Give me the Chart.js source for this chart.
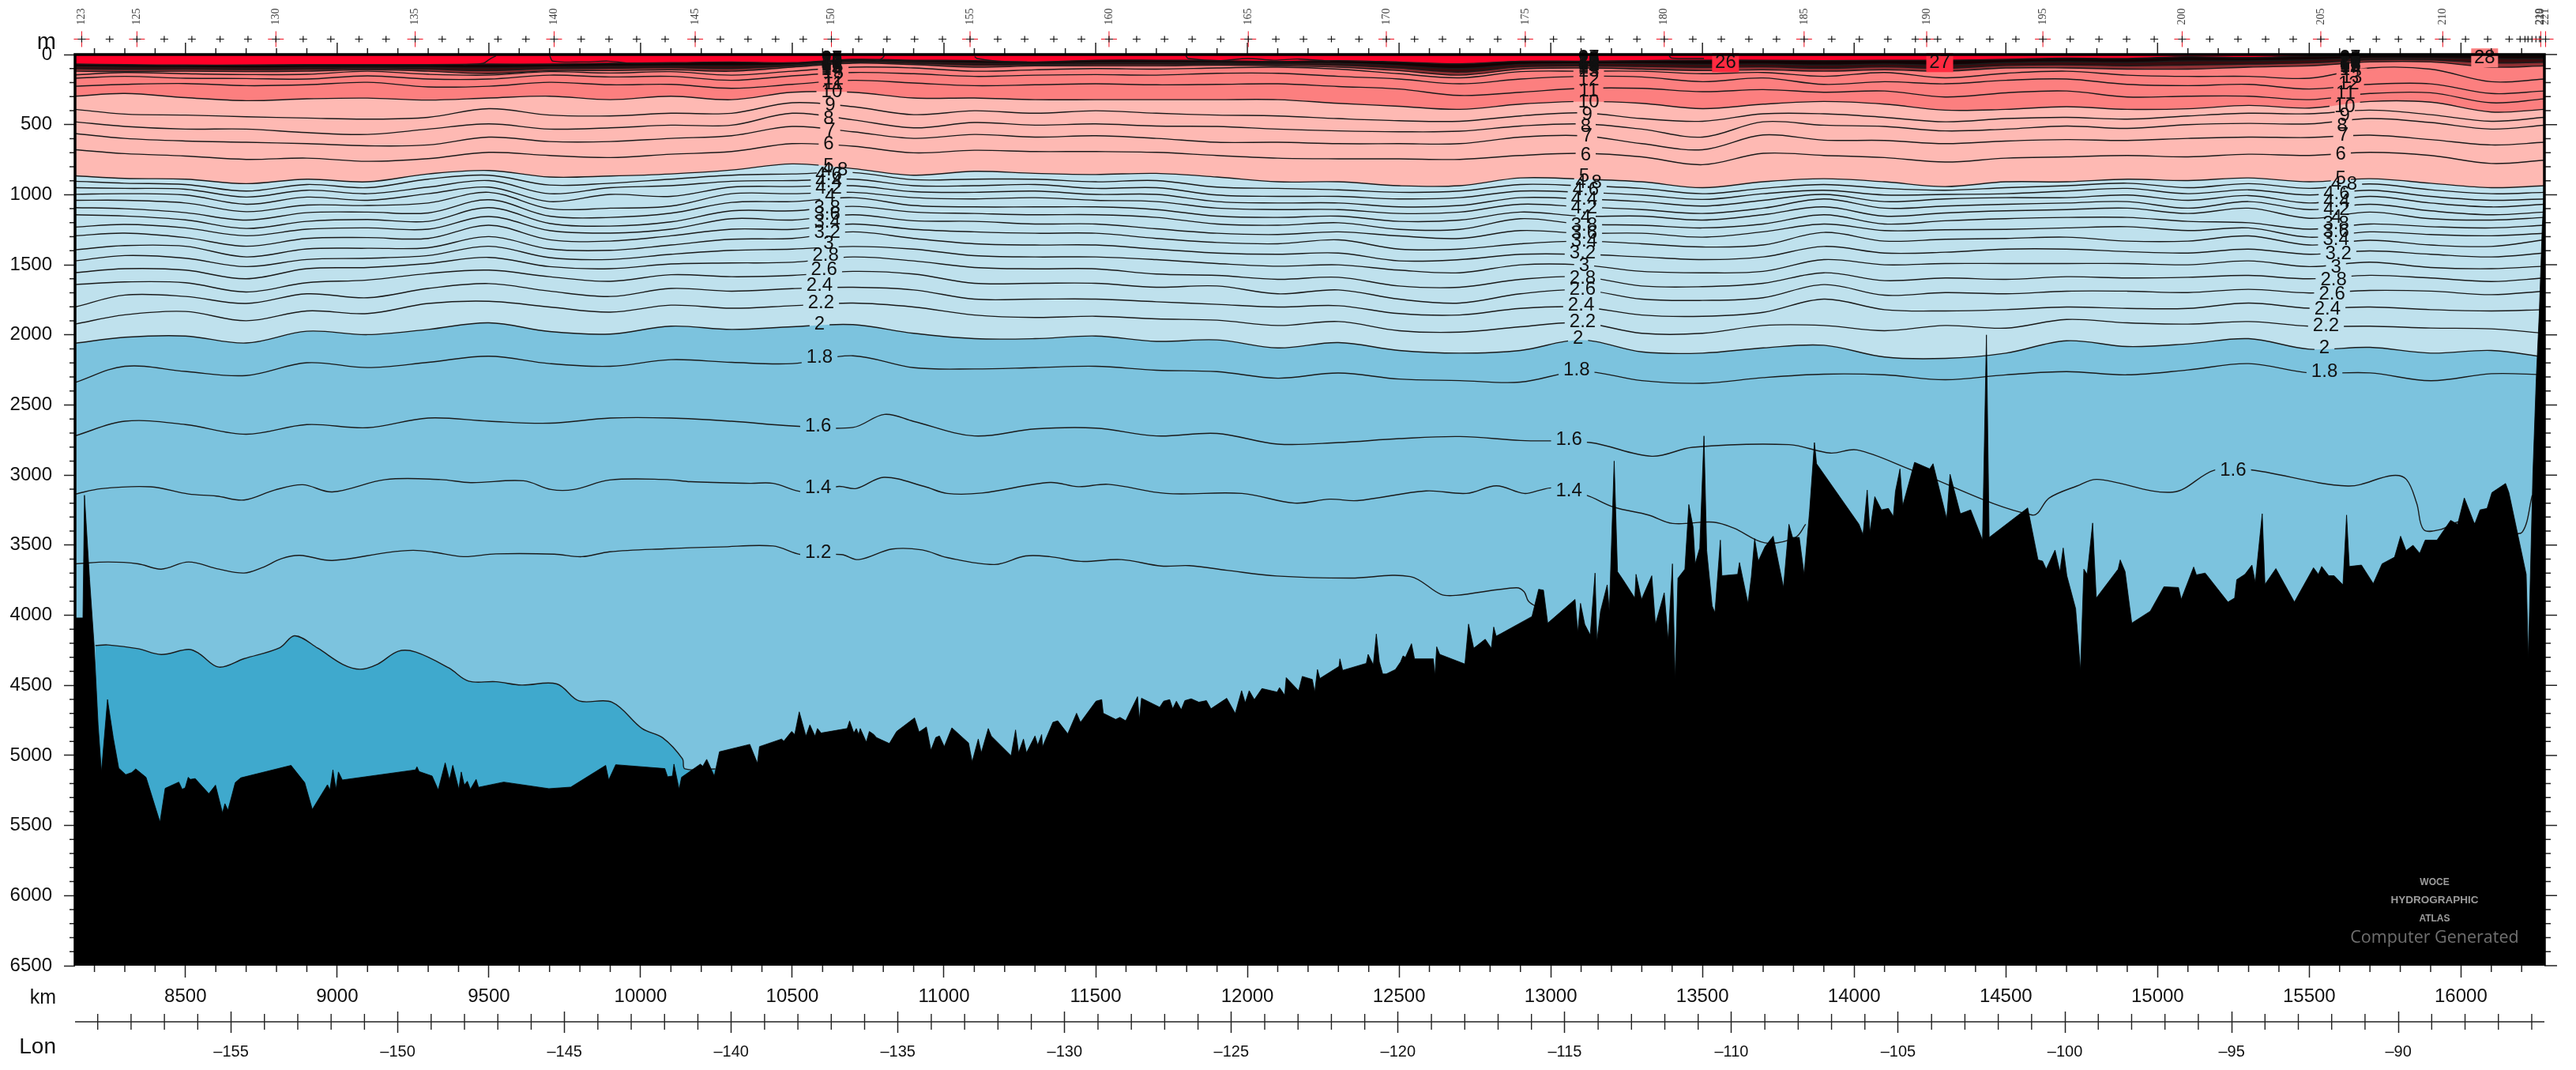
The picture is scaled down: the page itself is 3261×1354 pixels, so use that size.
<!DOCTYPE html>
<html>
<head>
<meta charset="utf-8">
<title>Potential temperature section</title>
<style>
  html, body { margin: 0; padding: 0; background: #fff; }
  canvas { display: block; }
</style>
<script src="https://cdn.jsdelivr.net/npm/chart.js@4"></script>
</head>
<body>
<canvas id="section" width="3261" height="1354"></canvas>
<script>
// distance along the section (km) shared by the upper isotherms
const kmGrid = [8136,8300,8500,8700,8900,9100,9300,9500,9700,9900,10100,10300,10500,10700,10900,11100,11300,11500,11700,11900,12100,12300,12500,12700,12900,13100,13300,13500,13700,13900,14100,14300,14500,14700,14900,15100,15300,15500,15700,15900,16100,16276];
const kmTicks = [8500,9000,9500,10000,10500,11000,11500,12000,12500,13000,13500,14000,14500,15000,15500,16000];

// isotherm depths (m) on kmGrid
const iso26 = [68,72,75,75,72,72,72,68,68,62,58,53,58,34,40,43,53,40,40,43,49,43,53,66,47,47,43,40,40,43,40,40,34,25,28,15,21,10,8,8,8,8];
const iso20 = [85,90,92,95,92,90,92,95,88,83,80,80,72,45,52,60,65,58,58,58,62,62,78,100,70,65,65,70,68,75,68,75,58,52,56,45,45,38,25,25,30,30];
const iso17 = [102,106,105,108,105,100,105,115,100,98,94,100,80,54,62,75,73,70,70,68,72,76,96,125,88,80,85,92,88,98,88,98,78,74,80,75,68,60,38,38,60,55];
const iso15 = [119,122,119,122,119,109,119,137,115,115,109,119,90,62,72,90,81,81,81,77,81,90,115,147,104,96,104,115,109,119,109,119,96,96,104,104,90,81,53,53,90,81];
const iso13 = [145,128,137,143,141,119,141,147,122,132,122,147,119,90,96,119,109,100,104,96,90,104,137,166,122,119,119,137,128,156,128,166,134,119,147,156,156,169,96,104,194,175];
const iso12 = [169,156,169,171,175,152,175,175,147,160,156,184,152,128,137,156,147,143,147,134,134,156,175,209,175,156,160,194,167,213,194,209,184,175,213,222,213,246,213,209,278,260];
const iso11 = [226,213,207,222,216,198,231,226,198,216,213,241,213,184,203,222,216,209,216,213,209,228,246,292,269,241,241,265,250,269,260,303,273,260,303,297,297,322,278,273,344,316];
const iso10 = [297,278,307,329,316,311,325,310,297,322,297,322,269,269,310,310,322,322,322,322,322,348,369,391,354,335,348,386,354,335,354,397,391,372,391,387,363,382,335,340,410,391];
const iso9 = [391,425,432,444,453,461,448,386,432,438,419,419,344,372,429,401,419,401,419,432,438,457,472,476,438,416,457,476,423,423,448,480,457,448,461,438,419,423,397,429,476,448];
const iso8 = [480,513,532,532,557,570,532,495,532,523,504,504,419,466,523,485,504,495,510,513,532,545,551,547,510,495,532,589,480,504,513,545,532,510,527,500,491,495,457,485,532,504];
const iso7 = [564,598,617,626,636,651,645,589,621,621,598,579,513,551,598,570,589,579,598,626,626,636,636,636,589,579,636,679,574,611,613,636,617,607,613,598,589,592,575,607,645,626];
const iso6 = [679,707,724,748,739,762,743,698,720,735,711,692,636,654,701,683,692,692,698,720,739,744,744,748,720,705,730,786,705,720,735,767,739,730,720,730,711,720,698,720,777,754];
const iso5 = [865,884,889,921,889,908,852,827,874,867,852,824,780,814,861,833,848,856,848,874,908,908,936,936,880,889,908,950,908,886,908,942,908,908,889,899,880,908,886,918,950,936];
const iso4_8 = [904,918,927,974,927,950,889,861,931,918,889,861,852,842,893,889,889,908,899,946,955,965,983,974,927,936,955,993,955,927,955,968,950,936,918,950,921,955,923,965,993,983];
const iso4_6 = [950,955,961,1017,968,993,946,899,993,950,936,904,899,889,936,936,927,955,950,1002,1012,1012,1030,1021,974,983,1002,1034,993,968,1002,998,993,974,955,993,965,1002,968,1012,1040,1030];
const iso4_4 = [997,993,1002,1068,1017,1040,993,946,1049,998,1012,946,942,936,978,983,974,998,998,1049,1059,1059,1087,1077,1021,1030,1049,1081,1040,998,1049,1030,1021,1021,1002,1040,1006,1059,1012,1059,1087,1068];
const iso4_2 = [1040,1040,1059,1121,1074,1077,1059,983,1100,1096,1081,993,993,983,1021,1030,1021,1040,1049,1096,1106,1106,1134,1124,1068,1087,1106,1134,1096,1030,1096,1081,1068,1059,1049,1096,1049,1106,1068,1115,1143,1124];
const iso4 = [1092,1100,1128,1181,1128,1124,1130,1036,1153,1162,1132,1055,1049,1021,1077,1087,1087,1087,1106,1153,1162,1153,1190,1181,1124,1153,1153,1181,1143,1087,1153,1130,1115,1106,1096,1134,1096,1168,1124,1171,1181,1162];
const iso3_8 = [1143,1152,1180,1241,1190,1177,1190,1092,1205,1224,1194,1115,1115,1083,1124,1134,1143,1143,1162,1209,1218,1200,1247,1247,1171,1209,1218,1237,1209,1143,1209,1186,1171,1162,1162,1190,1200,1246,1209,1228,1237,1218];
const iso3_6 = [1231,1212,1237,1293,1246,1237,1246,1156,1256,1274,1246,1171,1181,1143,1186,1190,1209,1209,1243,1275,1284,1265,1294,1312,1256,1275,1275,1303,1265,1209,1256,1250,1247,1237,1228,1256,1237,1303,1265,1284,1293,1275];
const iso3_4 = [1293,1274,1306,1368,1312,1306,1312,1218,1321,1331,1293,1246,1247,1209,1247,1265,1275,1275,1312,1341,1350,1322,1388,1388,1350,1331,1350,1373,1359,1269,1331,1318,1312,1303,1331,1331,1294,1359,1325,1359,1369,1322];
const iso3_2 = [1393,1363,1368,1444,1387,1382,1378,1299,1387,1397,1359,1318,1312,1265,1312,1350,1359,1359,1388,1416,1425,1416,1472,1463,1425,1425,1444,1463,1444,1369,1416,1410,1388,1388,1406,1416,1388,1425,1401,1425,1444,1416];
const iso3 = [1472,1434,1453,1513,1462,1453,1434,1368,1449,1462,1425,1397,1388,1369,1388,1435,1444,1444,1463,1491,1510,1500,1538,1557,1500,1500,1547,1557,1547,1463,1500,1491,1491,1491,1491,1500,1472,1513,1481,1519,1528,1510];
const iso2_8 = [1556,1528,1538,1600,1528,1519,1491,1447,1513,1528,1494,1487,1482,1444,1472,1519,1529,1529,1566,1576,1604,1589,1651,1660,1604,1585,1651,1656,1632,1557,1613,1594,1604,1585,1594,1589,1576,1600,1575,1594,1619,1594];
const iso2_6 = [1641,1622,1628,1694,1628,1609,1562,1538,1585,1618,1571,1585,1576,1547,1566,1632,1632,1632,1660,1651,1707,1679,1745,1773,1707,1679,1745,1754,1735,1641,1717,1698,1707,1688,1688,1698,1675,1701,1683,1688,1713,1688];
const iso2_4 = [1801,1716,1726,1776,1707,1735,1669,1634,1688,1726,1669,1688,1670,1660,1679,1745,1745,1745,1764,1782,1801,1792,1848,1858,1811,1801,1858,1867,1839,1745,1820,1829,1820,1801,1811,1811,1773,1810,1801,1820,1829,1820];
const iso2_2 = [1923,1857,1833,1899,1829,1848,1776,1760,1801,1838,1788,1810,1792,1773,1801,1858,1876,1867,1886,1895,1933,1905,1970,1980,1942,1914,1989,1989,1933,1933,1970,1933,1952,1890,1914,1923,1905,1938,1938,1951,1957,1989];
const iso2 = [2060,2017,2008,2058,1974,1998,1961,1914,1976,1994,1938,1961,1942,1927,1989,2027,2027,2008,2046,2036,2093,2055,2111,2130,2111,2036,2121,2130,2093,2074,2158,2168,2130,2042,2083,2064,2027,2102,2089,2130,2111,2158];
const iso1_8 = [2340,2224,2261,2290,2199,2233,2196,2152,2205,2224,2177,2196,2205,2149,2234,2243,2234,2224,2252,2262,2309,2272,2315,2326,2337,2260,2326,2345,2305,2280,2285,2320,2285,2262,2285,2250,2205,2271,2271,2327,2277,2284];

// deep isotherms and the 28 degree patches have their own km, [km, depth]
const surface = [[8136,0],[16276,0]];
const iso1_6 = [[8136,2720],[8300,2616],[8500,2640],[8700,2709],[8900,2640],[9100,2662],[9300,2593],[9500,2616],[9700,2630],[9900,2593],[10100,2593],[10300,2616],[10500,2650],[10700,2660],[10804,2567],[10900,2617],[11100,2721],[11300,2671],[11500,2665],[11700,2721],[11900,2703],[12100,2779],[12300,2768],[12500,2740],[12700,2725],[12900,2753],[13130,2768],[13333,2866],[13468,2802],[13785,2783],[13921,2843],[14010,2821],[14192,2966],[14587,3285],[14643,3163],[14734,3078],[14801,3031],[15050,3122],[15186,2966],[15298,2960],[15627,3078],[15773,3003],[15820,3031],[15854,3201],[15877,3389],[15932,3389],[16000,3332],[16150,3400],[16202,3407],[16235,3144]];
const iso1_4 = [[8138,3135],[8222,3097],[8385,3084],[8510,3135],[8602,3150],[8693,3178],[8794,3107],[8886,3069],[8984,3120],[9159,3032],[9341,3032],[9440,3054],[9614,3041],[9705,3103],[9781,3103],[9898,3035],[10088,3032],[10164,3047],[10361,3059],[10437,3059],[10536,3120],[10654,3081],[10711,3096],[10802,3016],[10935,3081],[11010,3131],[11125,3128],[11349,3053],[11443,3083],[11542,3066],[11732,3131],[11982,3131],[12156,3200],[12271,3172],[12362,3182],[12589,3113],[12722,3131],[12821,3077],[12912,3131],[12966,3107],[13005,3092],[13117,3144],[13208,3229],[13322,3285],[13401,3345],[13536,3336],[13604,3379],[13705,3483],[13806,3445],[13840,3351]];
const iso1_2 = [[8138,3633],[8245,3620],[8344,3633],[8420,3671],[8510,3620],[8610,3671],[8693,3699],[8752,3661],[8817,3596],[8877,3573],[8984,3609],[9166,3552],[9250,3537],[9315,3549],[9416,3582],[9523,3562],[9716,3564],[9807,3582],[9898,3547],[10080,3526],[10263,3513],[10437,3506],[10529,3567],[10662,3567],[10719,3603],[10829,3528],[10928,3534],[11010,3588],[11167,3638],[11269,3577],[11349,3582],[11451,3616],[11584,3603],[11716,3649],[11808,3646],[11932,3679],[12097,3720],[12339,3735],[12537,3724],[12638,3851],[12688,3858],[12886,3804],[12912,3832],[12927,3901],[12966,3955]];
const iso1 = [[8203,4216],[8245,4212],[8344,4239],[8420,4280],[8510,4244],[8544,4272],[8610,4370],[8693,4310],[8811,4231],[8860,4146],[8936,4235],[9019,4351],[9076,4385],[9134,4348],[9201,4257],[9259,4263],[9368,4376],[9433,4470],[9523,4474],[9607,4498],[9724,4490],[9797,4611],[9906,4620],[10005,4808],[10073,4874],[10138,5024],[10146,5096],[10247,5096]];
const iso28 = [[9416,72],[9482,62],[9502,34],[9523,10],[9600,null],[9701,10],[9711,47],[9815,53],[9893,47],[9971,62],[10100,60],[10400,null],[10700,55],[10753,53],[10786,40],[10799,21],[10805,0],[10950,null],[11101,15],[11109,28],[11177,47],[11273,53],[11500,null],[11797,9],[11805,28],[11912,43],[12000,28],[12086,40],[12170,32],[12273,47],[12800,null],[13390,9],[13398,25],[13505,28]];

// ocean floor, [km, depth]
const bottom = [[8137,4019],[8162,4019],[8167,3144],[8184,3746],[8199,4216],[8212,4780],[8223,5118],[8243,4601],[8262,4874],[8280,5090],[8303,5137],[8323,5122],[8336,5096],[8370,5156],[8416,5476],[8433,5235],[8478,5190],[8489,5241],[8499,5231],[8509,5156],[8516,5171],[8532,5165],[8577,5273],[8599,5212],[8622,5410],[8630,5344],[8640,5391],[8664,5194],[8682,5160],[8848,5071],[8893,5194],[8918,5385],[8968,5209],[8976,5246],[8986,5103],[8996,5241],[9004,5118],[9017,5175],[9258,5103],[9263,5081],[9270,5115],[9313,5147],[9333,5246],[9356,5053],[9370,5175],[9381,5071],[9401,5241],[9409,5118],[9419,5212],[9429,5184],[9439,5241],[9458,5171],[9466,5227],[9549,5190],[9698,5237],[9770,5226],[9885,5071],[9895,5175],[9918,5066],[10080,5094],[10089,5152],[10105,5147],[10110,5062],[10127,5241],[10135,5156],[10197,5062],[10205,5077],[10218,5028],[10243,5147],[10260,4974],[10360,4921],
[10385,5056],[10392,4937],[10465,4883],[10472,4898],[10498,4829],[10508,4851],[10523,4689],[10545,4862],[10558,4782],[10575,4862],[10583,4808],[10595,4840],[10681,4808],[10689,4754],[10703,4840],[10711,4808],[10719,4851],[10724,4808],[10744,4905],[10754,4829],[10769,4851],[10777,4872],[10820,4915],[10844,4829],[10903,4732],[10918,4833],[10942,4797],[10957,4963],[10973,4872],[10985,4861],[11001,4937],[11026,4803],[11081,4911],[11093,5045],[11113,4883],[11123,4981],[11146,4808],[11156,4862],[11221,5002],[11236,4818],[11246,4981],[11262,4883],[11272,4981],[11300,4861],[11309,4926],[11322,4851],[11325,4937],[11359,4764],[11375,4753],[11408,4846],[11437,4699],[11450,4764],[11501,4613],[11520,4602],[11525,4699],[11566,4743],[11580,4728],[11599,4753],[11638,4581],[11644,4743],[11651,4592],[11711,4656],[11724,4613],[11744,4602],[11754,4667],[11766,4613],[11782,4674],[11794,4609],[11815,4596],[11840,4620],[11865,4609],[11880,4667],[11932,4592],[11960,4700],[11981,4538],[11993,4624],[12006,4538],[12023,4602],[12048,4523],[12098,4548],[12106,4516],[12123,4570],[12128,4445],[12169,4538],[12181,4436],[12214,4458],[12222,4548],[12231,4387],[12239,4451],[12302,4365],[12305,4311],[12314,4393],[12392,4343],[12398,4279],[12415,4354],[12425,4134],[12435,4333],[12446,4419],[12458,4419],[12488,4387],[12505,4333],[12513,4290],[12521,4300],[12541,4203],[12551,4311],[12613,4311],[12618,4430],[12624,4225],[12634,4279],[12717,4348],[12729,4063],[12746,4235],[12784,4171],[12804,4235],[12812,4084],[12820,4149],
[12836,4131],[12938,4009],[12960,3815],[12976,3821],[12990,4056],[13080,3887],[13089,4122],[13098,3915],[13112,4065],[13130,4141],[13146,3699],[13152,4188],[13164,3971],[13186,3783],[13193,3971],[13209,2900],[13220,3689],[13238,3746],[13277,3877],[13281,3708],[13299,3887],[13333,3718],[13345,4065],[13374,3840],[13387,4178],[13401,3633],[13410,4460],[13419,3736],[13442,3671],[13455,3210],[13469,3370],[13476,3633],[13491,3520],[13505,2721],[13514,3539],[13532,3934],[13541,3981],[13559,3464],[13564,3718],[13616,3708],[13622,3624],[13650,3915],[13661,3727],[13672,3454],[13684,3614],[13706,3511],[13733,3436],[13767,3802],[13785,3351],[13797,3445],[13819,3445],[13835,3708],[13853,3257],[13869,2768],[13876,2919],[14016,3351],[14029,3426],[14043,3107],[14052,3407],[14068,3154],[14090,3248],[14113,3238],[14129,3295],[14136,3116],[14151,2956],[14160,3219],[14199,2909],[14249,2956],[14260,2919],[14305,3313],[14316,2994],[14350,3276],[14384,3248],[14423,3464],[14436,2000],[14445,3445],[14572,3234],[14606,3605],[14621,3614],[14633,3671],[14662,3535],[14678,3689],[14689,3520],[14701,3718],[14730,3953],[14746,4394],[14757,3671],[14768,3708],[14786,3342],[14798,3877],[14870,3671],[14877,3605],[14893,3689],[14915,4056],[14976,3971],[15021,3797],[15069,3802],[15078,3887],[15119,3656],[15128,3712],[15157,3699],[15232,3906],[15254,3877],[15261,3746],[15288,3708],[15311,3642],[15322,3765],[15345,3276],[15354,3780],[15390,3667],[15451,3906],[15514,3661],[15530,3708],[15541,3652],[15564,3718],[15582,3718],[15611,3783],[15623,3285],[15632,3652],[15672,3642],[15711,3774],[15740,3633],[15781,3586],[15801,3436],[15819,3539],[15842,3501],[15864,3558],[15882,3464],[15921,3464],[15966,3323],[15989,3351],[16011,3163],[16045,3351],[16063,3248],[16086,3238],[16102,3125],[16147,3060],[16158,3125],[16181,3360],[16215,3708],[16222,4310],[16237,2994],[16248,2317],[16258,1848],[16268,1228],[16276,900]];

// stations 123 to 221, position in km, in order
const stationFirst = 123;
const stationKm = [8158,8250,8340,8430,8521,8614,8706,8798,8888,8979,9072,9161,9257,9346,9438,9530,9622,9715,9804,9896,9987,10081,10180,10263,10354,10445,10536,10629,10719,10812,10903,10995,11086,11177,11266,11362,11453,11544,11635,11727,11818,11912,12003,12094,12185,12277,12368,12458,12551,12643,12734,12825,12916,13009,13099,13193,13284,13374,13468,13562,13653,13744,13835,13926,14017,14111,14202,14239,14275,14348,14447,14533,14622,14712,14807,14898,14989,15081,15172,15265,15356,15447,15538,15635,15721,15794,15867,15940,16015,16088,16159,16195,16211,16221,16234,16247,16259,16263,16279];
const stationLabels = [123,125,130,135,140,145,150,155,160,165,170,175,180,185,190,195,200,205,210,219,220,221];

// contour labels: [text, km, depth]
const contourLabels = [
  ['27',10630,28],['26',10630,32],['25',10630,36],['24',10630,40],['23',10630,43],['22',10630,47],['21',10630,51],['20',10630,57],['19',10630,62],['18',10630,70],['17',10630,77],['16',10630,85],['15',10630,96],['14',10630,109],['13',10635,134],['12',10635,175],['11',10635,213],['10',10630,269],['9',10625,363],['8',10620,457],['7',10625,542],['6',10620,641],['5',10620,795],['4.8',10640,824],['4.6',10620,861],['4.4',10620,908],['4.2',10620,955],['4',10625,1012],['3.8',10615,1096],['3.6',10615,1143],['3.4',10615,1200],['3.2',10615,1269],['3',10620,1350],['2.8',10610,1435],['2.6',10605,1538],['2.4',10590,1651],['2.2',10595,1773],['2',10590,1927],['1.8',10590,2164],['1.6',10585,2650],['1.4',10585,3090],['1.2',10585,3552],
  ['27',13125,25],['26',13125,30],['25',13125,35],['24',13125,39],['23',13125,43],['22',13125,47],['21',13125,51],['20',13125,55],['19',13125,60],['18',13125,66],['17',13125,72],['16',13125,79],['15',13125,87],['14',13125,96],['13',13125,119],['12',13125,184],['11',13125,260],['10',13125,340],['9',13120,429],['8',13115,513],['7',13120,585],['6',13115,720],['5',13110,871],['4.8',13125,914],['4.6',13115,965],['4.4',13110,1034],['4.2',13110,1096],['4',13115,1162],['3.8',13110,1218],['3.6',13110,1275],['3.4',13110,1331],['3.2',13105,1416],['3',13110,1510],['2.8',13105,1600],['2.6',13105,1679],['2.4',13100,1792],['2.2',13105,1905],['2',13090,2027],['1.8',13085,2252],['1.6',13060,2746],['1.4',13060,3116],
  ['27',15635,25],['26',15635,30],['25',15635,35],['24',15635,39],['23',15635,43],['22',15635,47],['21',15635,51],['20',15635,55],['19',15635,60],['18',15635,66],['17',15635,72],['16',15635,79],['15',15635,87],['14',15635,110],['13',15640,166],['12',15630,213],['11',15620,278],['10',15617,372],['9',15617,438],['8',15608,510],['7',15612,579],['6',15604,715],['5',15604,889],['4.8',15615,927],['4.6',15590,993],['4.4',15590,1049],['4.2',15590,1106],['4',15590,1162],['3.8',15588,1209],['3.6',15588,1265],['3.4',15588,1322],['3.2',15596,1425],['3',15588,1519],['2.8',15580,1607],['2.6',15575,1711],['2.4',15560,1816],['2.2',15555,1933],['2',15550,2096],['1.8',15550,2265],['1.6',15249,2966]
];
// labels on a patch inside the surface layer: [text, km, depth, patch colour]
const surfaceLabels = [['26',13576,58,'#ff2a40'],['27',14282,58,'#ff2a40'],['28',16078,24,'#fc7f7f']];

// colour bands, back to front
const bands = [
  [surface,'#ff0028'],[iso26,'#120304'],[iso20,'#3a0b0e'],[iso17,'#8e2f33'],[iso15,'#fc7f7f'],
  [iso10,'#feb9b3'],[iso5,'#bfe1ed'],[iso2,'#7cc3de'],[iso1,'#3fa9cd']
];
const isolines = [
  ['',iso28],['',iso26],['',iso20],['',iso17],['',iso15],['13',iso13],['12',iso12],['11',iso11],['10',iso10],['9',iso9],['8',iso8],['7',iso7],['6',iso6],['5',iso5],
  ['4.8',iso4_8],['4.6',iso4_6],['4.4',iso4_4],['4.2',iso4_2],['4',iso4],['3.8',iso3_8],['3.6',iso3_6],['3.4',iso3_4],['3.2',iso3_2],['3',iso3],
  ['2.8',iso2_8],['2.6',iso2_6],['2.4',iso2_4],['2.2',iso2_2],['2',iso2],['1.8',iso1_8],['1.6',iso1_6],['1.4',iso1_4],['1.2',iso1_2],['',iso1]
];

function toPoints(line) {
  if (Array.isArray(line[0])) return line.map(p => ({x: p[0], y: p[1]}));
  return line.map((d, i) => ({x: kmGrid[i], y: d}));
}

const FONT = '"Liberation Sans", Arial, sans-serif';
const LABEL_FONT = '24px ' + FONT;

let datasets = [];
bands.forEach(b => datasets.push({
  data: toPoints(b[0]), backgroundColor: b[1], borderWidth: 0, pointRadius: 0, fill: {value: 6500}, tension: 0.3
}));
isolines.forEach(l => datasets.push({
  data: toPoints(l[1]), isoLabel: l[0], borderColor: '#1a1a1a', borderWidth: 1.4, pointRadius: 0, fill: false, tension: 0.35, spanGaps: false
}));
datasets.push({
  data: toPoints(bottom), backgroundColor: '#000', borderColor: '#000', borderWidth: 0.8, pointRadius: 0, fill: {value: 6500}, tension: 0
});
// first dataset has to end up at the back
datasets.forEach((d, i) => { d.order = datasets.length - i; });

// the contour lines stop short of their label
function labelHoles(ctx, chart, text) {
  const xs = chart.scales.x, ys = chart.scales.y;
  ctx.font = LABEL_FONT;
  contourLabels.filter(c => c[0] === text).forEach(c => {
    const w = ctx.measureText(text).width + 12;
    ctx.rect(xs.getPixelForValue(c[1]) - w / 2, ys.getPixelForValue(c[2]) - 12, w, 24);
  });
}

function drawCross(ctx, x, y, major) {
  if (major) {
    ctx.strokeStyle = '#f01020';
    ctx.lineWidth = 1;
    ctx.beginPath();
    ctx.moveTo(x - 10, y); ctx.lineTo(x + 10, y);
    ctx.moveTo(x, y - 10); ctx.lineTo(x, y + 10);
    ctx.stroke();
  }
  ctx.strokeStyle = '#111';
  ctx.lineWidth = 1.2;
  ctx.beginPath();
  ctx.moveTo(x - 5, y); ctx.lineTo(x + 5, y);
  ctx.moveTo(x, y - 4); ctx.lineTo(x, y + 4);
  ctx.stroke();
}

const sectionPlugin = {
  id: 'sectionPlugin',
  beforeDatasetDraw(chart, args) {
    const text = chart.data.datasets[args.index].isoLabel;
    if (!text) return;
    const ctx = chart.ctx;
    ctx.save();
    ctx.beginPath();
    ctx.rect(0, 0, chart.width, chart.height);
    labelHoles(ctx, chart, text);
    ctx.clip('evenodd');
  },
  afterDatasetDraw(chart, args) {
    if (chart.data.datasets[args.index].isoLabel) chart.ctx.restore();
  },
  afterDatasetsDraw(chart) {
    const ctx = chart.ctx, xs = chart.scales.x, ys = chart.scales.y, lon = chart.scales.lon;
    const area = chart.chartArea;
    ctx.save();

    // contour labels
    ctx.textAlign = 'center';
    ctx.textBaseline = 'middle';
    ctx.font = LABEL_FONT;
    ctx.fillStyle = '#111';
    contourLabels.forEach(c => ctx.fillText(c[0], xs.getPixelForValue(c[1]), ys.getPixelForValue(c[2])));
    surfaceLabels.forEach(c => {
      const x = xs.getPixelForValue(c[1]), y = ys.getPixelForValue(c[2]);
      ctx.fillStyle = c[3];
      ctx.fillRect(x - 17, y - 12, 34, 24);
      ctx.fillStyle = '#111';
      ctx.fillText(c[0], x, y);
    });

    // watermark
    ctx.fillStyle = '#9c9c9c';
    const wmX = xs.getPixelForValue(15913);
    ctx.font = 'bold 12px ' + FONT;
    ctx.fillText('WOCE', wmX, 1117);
    ctx.font = 'bold 13.5px ' + FONT;
    ctx.fillText('HYDROGRAPHIC', wmX, 1139);
    ctx.font = 'bold 12px ' + FONT;
    ctx.fillText('ATLAS', wmX, 1163);
    ctx.fillStyle = '#707070';
    ctx.font = '21.5px "Open Sans", sans-serif';
    ctx.fillText('Computer Generated', wmX, 1187);

    // minor ticks on all four sides, major ones along the top and right
    ctx.strokeStyle = '#222';
    ctx.lineWidth = 1.5;
    ctx.beginPath();
    for (let km = 8200; km <= 16200; km += 100) {
      const x = xs.getPixelForValue(km);
      const major = km % 500 === 0;
      ctx.moveTo(x, area.top);
      ctx.lineTo(x, area.top - (major ? 15 : 8));
      if (!major) { ctx.moveTo(x, area.bottom); ctx.lineTo(x, area.bottom + 8); }
    }
    for (let d = 0; d <= 6500; d += 100) {
      const y = ys.getPixelForValue(d);
      const major = d % 500 === 0;
      ctx.moveTo(area.right, y);
      ctx.lineTo(area.right + (major ? 16 : 8), y);
      if (!major) { ctx.moveTo(area.left, y); ctx.lineTo(area.left - 7, y); }
    }
    ctx.stroke();

    // frame
    ctx.strokeStyle = '#000';
    ctx.lineWidth = 3.5;
    ctx.beginPath();
    ctx.moveTo(area.left, area.bottom);
    ctx.lineTo(area.left, area.top);
    ctx.lineTo(area.right, area.top);
    ctx.lineTo(area.right, area.bottom);
    ctx.stroke();

    // longitude rule
    const ruleY = 1293;
    ctx.strokeStyle = '#222';
    ctx.lineWidth = 1.4;
    ctx.beginPath();
    ctx.moveTo(area.left, ruleY);
    ctx.lineTo(area.right, ruleY);
    for (let deg = -159; deg <= -86; deg++) {
      if (deg % 5 === 0) continue;
      const x = lon.getPixelForValue(deg);
      ctx.moveTo(x, ruleY - 10);
      ctx.lineTo(x, ruleY + 10);
    }
    ctx.stroke();

    // stations along the top
    stationKm.forEach((km, i) => {
      const num = stationFirst + i;
      const x = xs.getPixelForValue(km);
      const labelled = stationLabels.includes(num);
      drawCross(ctx, x, 49.5, labelled && num !== 219);
      if (labelled) {
        ctx.save();
        ctx.translate(x, 21);
        ctx.rotate(-Math.PI / 2);
        ctx.font = '14px "Liberation Serif", serif';
        ctx.fillStyle = '#444';
        ctx.fillText(String(num), 0, 0);
        ctx.restore();
      }
    });

    // axis names
    ctx.fillStyle = '#111';
    ctx.textAlign = 'right';
    ctx.font = '29px ' + FONT;
    ctx.fillText('m', 71, 54);
    ctx.font = '25px ' + FONT;
    ctx.fillText('km', 71, 1263);
    ctx.font = '28px ' + FONT;
    ctx.fillText('Lon', 71, 1325);
    ctx.restore();
  }
};

const ctx = document.getElementById('section').getContext('2d');
const sectionChart = new Chart(ctx, {
  type: 'line',
  data: {datasets: datasets},
  plugins: [sectionPlugin],
  options: {
    responsive: false,
    animation: false,
    devicePixelRatio: 1,
    layout: {padding: {top: 69, right: 40, left: 0, bottom: 0}},
    plugins: {legend: {display: false}, title: {display: false}, tooltip: {enabled: false}},
    scales: {
      x: {
        type: 'linear',
        position: 'bottom',
        min: 8136,
        max: 16275,
        afterFit: s => { s.height = 58; },
        afterBuildTicks: s => { s.ticks = kmTicks.map(v => ({value: v})); },
        grid: {drawOnChartArea: false, tickLength: 15, tickColor: '#222', tickWidth: 1.5},
        border: {display: false},
        ticks: {
          autoSkip: false,
          maxRotation: 0,
          padding: 10,
          color: '#111',
          font: {family: FONT, size: 24},
          callback: v => String(v)
        }
      },
      lon: {
        type: 'linear',
        position: 'bottom',
        min: -159.68,
        max: -85.62,
        afterFit: s => { s.height = 74; },
        grid: {drawOnChartArea: false, tickLength: 27, tickColor: '#222', tickWidth: 1.5},
        border: {display: false},
        ticks: {
          stepSize: 5,
          includeBounds: false,
          autoSkip: false,
          maxRotation: 0,
          padding: 12,
          color: '#111',
          font: {family: FONT, size: 20},
          callback: v => '\u2013' + Math.abs(v)
        }
      },
      y: {
        type: 'linear',
        position: 'left',
        reverse: true,
        min: 0,
        max: 6500,
        afterFit: s => { s.width = 95; },
        grid: {drawOnChartArea: false, tickLength: 14, tickColor: '#222', tickWidth: 1.5},
        border: {display: false},
        ticks: {
          stepSize: 500,
          padding: 15,
          color: '#111',
          font: {family: FONT, size: 24},
          callback: v => String(v)
        }
      }
    }
  }
});
</script>
</body>
</html>
